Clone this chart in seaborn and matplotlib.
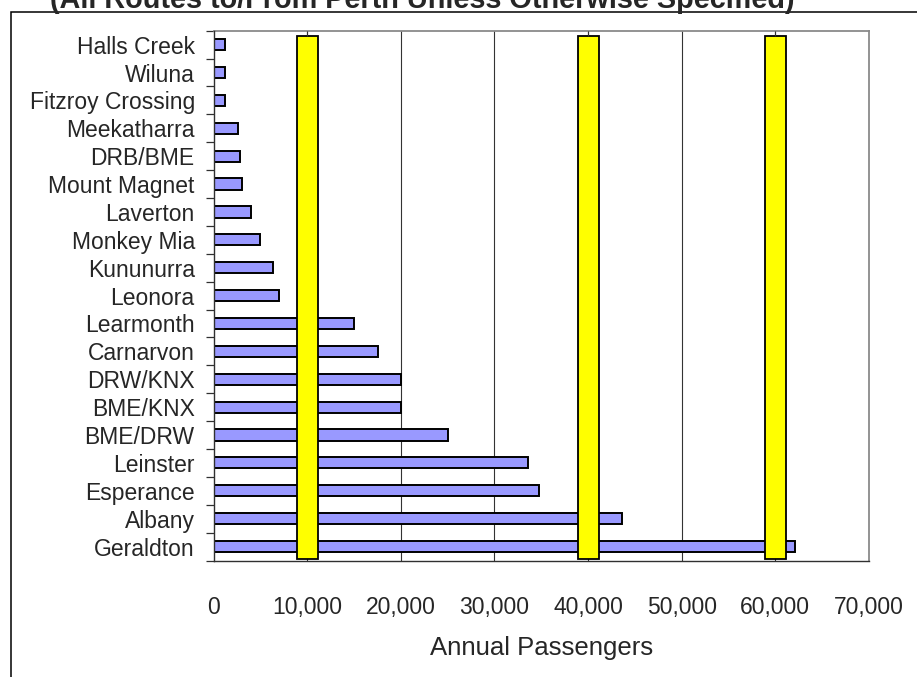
import matplotlib
matplotlib.use("Agg")
import matplotlib.pyplot as plt
from matplotlib.patches import Rectangle
from matplotlib.ticker import FuncFormatter, FixedLocator
import seaborn as sns
import pandas as pd

# Routes and their annual passenger counts
routes = ["Halls Creek", "Wiluna", "Fitzroy Crossing", "Meekatharra", "DRB/BME",
          "Mount Magnet", "Laverton", "Monkey Mia", "Kununurra", "Leonora",
          "Learmonth", "Carnarvon", "DRW/KNX", "BME/KNX", "BME/DRW",
          "Leinster", "Esperance", "Albany", "Geraldton"]
passengers = [1200, 1200, 1200, 2600, 2800, 3000, 4000, 5000, 6400, 7000,
              15000, 17600, 20000, 20000, 25000, 33600, 34800, 43600, 62100]

# Passenger thresholds marked as vertical bands
thresholds = [10000, 40000, 60000]
x_ticks = [0, 10000, 20000, 30000, 40000, 50000, 60000, 70000]

title = "(All Routes to/From Perth Unless Otherwise Specified)"
x_label = "Annual Passengers"

sns.set_style("white")
plt.rcParams["font.family"] = ["Liberation Sans", "DejaVu Sans"]

df = pd.DataFrame({"route": routes, "passengers": passengers})

fig = plt.figure(figsize=(9.17, 6.77), dpi=100)
ax = fig.add_axes([213.5 / 917, 1 - 560.5 / 677, (869 - 213.5) / 917, (560.5 - 30.7) / 677])

# vertical gridlines behind the bars
for xv in x_ticks[1:-1]:
    ax.axvline(xv, color="#333333", lw=0.8, zorder=0)

sns.barplot(data=df, x="passengers", y="route", orient="h", order=routes,
            color="#9999FF", saturation=1, edgecolor="black", linewidth=1.4,
            width=0.4, ax=ax, zorder=2)

# threshold bands drawn over the route bars
band_top, band_bottom = -0.32, 18.45
ax.bar(thresholds, band_bottom - band_top, bottom=band_top, width=2250,
       color="#FFFF00", edgecolor="black", linewidth=1.3, zorder=3)
ax.vlines(thresholds, -0.5, band_top, color="#333333", lw=0.8, zorder=3)

ax.set_xlim(0, 70000)
ax.set_ylim(len(routes) - 0.5, -0.5)

ax.xaxis.set_major_locator(FixedLocator(x_ticks))
ax.xaxis.set_major_formatter(FuncFormatter(lambda v, p: f"{int(v):,}"))
ax.tick_params(axis="x", which="major", direction="out", length=5.5, width=0.9,
               color="#303030", labelsize=16.5, pad=20)

ax.yaxis.set_minor_locator(FixedLocator([i - 0.5 for i in range(len(routes) + 1)]))
ax.tick_params(axis="y", which="major", length=0, labelsize=16.5, pad=13.5)
ax.tick_params(axis="y", which="minor", direction="out", length=5.5, width=0.9,
               color="#303030", left=True)

ax.set_ylabel("")
ax.set_xlabel(x_label, fontsize=18.5, labelpad=12)

for side in ("top", "right"):
    ax.spines[side].set_color("#8a8a8a")
    ax.spines[side].set_linewidth(1.3)
for side in ("left", "bottom"):
    ax.spines[side].set_color("#303030")
    ax.spines[side].set_linewidth(1.0)
    ax.spines[side].set_zorder(4)

# chart frame running off the right and bottom edges
fig.patches.append(Rectangle((11 / 917, -0.2), 1.2, 1.2 - 12 / 677,
                             transform=fig.transFigure, fill=False,
                             edgecolor="black", linewidth=1.1))

fig.text(422 / 917, 1 - 7.5 / 677, title, ha="center", va="baseline",
         fontsize=20.8, fontweight="bold")

fig.savefig("out.png", dpi=100)
